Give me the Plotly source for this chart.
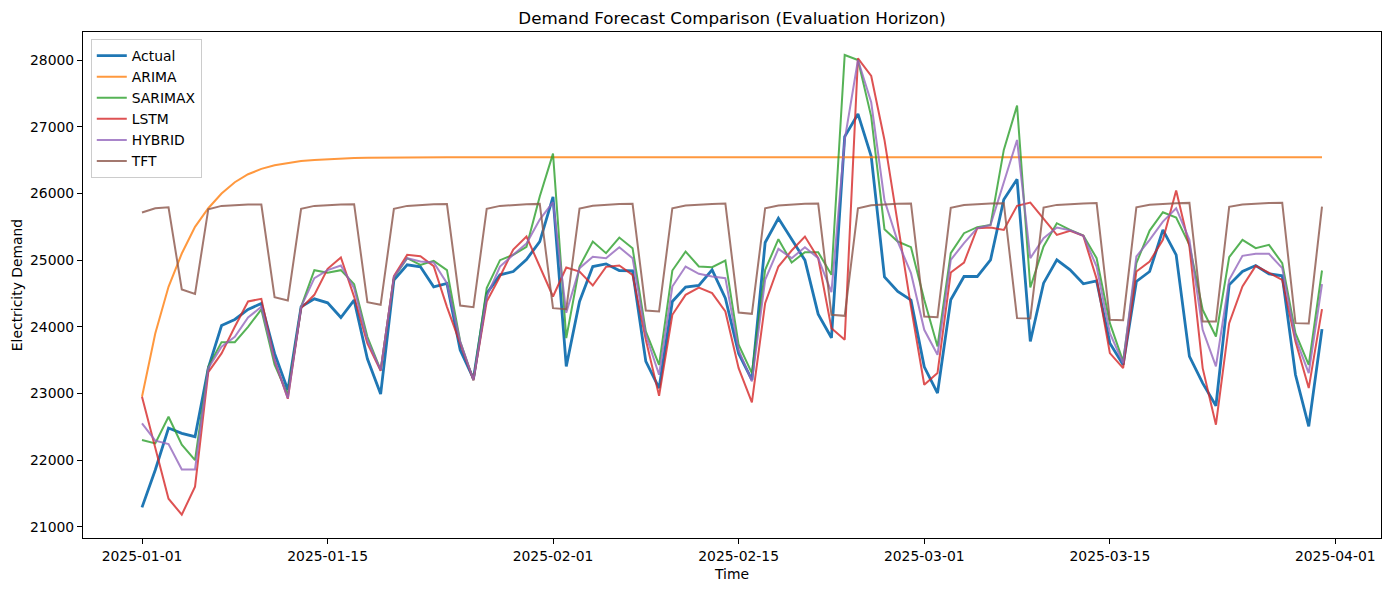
import pandas as pd
import plotly.graph_objects as go

start_date = "2025-01-01"
n_days = 90
dates = pd.date_range(start_date, periods=n_days, freq="D")

actual = [21290, 21850, 22480, 22400, 22350, 23380, 24020, 24110, 24260, 24350,
          23600, 23050, 24300, 24420, 24360, 24140, 24400, 23520, 22990, 24700,
          24930, 24900, 24600, 24650, 23650, 23220, 24500, 24780, 24830, 25010,
          25280, 25950, 23405, 24380, 24905, 24945, 24845, 24840, 23480, 23080,
          24380, 24595, 24620, 24855, 24430, 23600, 23205, 25265, 25630, 25315,
          25000, 24190, 23835, 26855, 27195, 26560, 24750, 24530, 24400, 23400,
          23005, 24405, 24755, 24755, 25005, 25910, 26215, 23780, 24655, 25005,
          24855, 24645, 24690, 23755, 23430, 24680, 24830, 25455, 25080, 23555,
          23155, 22815, 24630, 24830, 24920, 24795, 24765, 23280, 22505, 23965]

arima = [22950, 23900, 24600, 25100, 25500, 25780, 26000, 26170, 26290, 26370,
         26425, 26462, 26488, 26505, 26517, 26526, 26532, 26536, 26539, 26541,
         26542, 26543, 26544, 26545, 26545, 26545, 26545, 26545, 26545, 26545,
         26545, 26545, 26545, 26545, 26545, 26545, 26545, 26545, 26545, 26545,
         26545, 26545, 26545, 26545, 26545, 26545, 26545, 26545, 26545, 26545,
         26545, 26545, 26545, 26545, 26545, 26545, 26545, 26545, 26545, 26545,
         26545, 26545, 26545, 26545, 26545, 26545, 26545, 26545, 26545, 26545,
         26545, 26545, 26545, 26545, 26545, 26545, 26545, 26545, 26545, 26545,
         26545, 26545, 26545, 26545, 26545, 26545, 26545, 26545, 26545, 26545]

sarimax = [22300, 22250, 22650, 22230, 22000, 23400, 23770, 23770, 24000, 24260,
           23430, 22980, 24300, 24850, 24810, 24850, 24640, 23850, 23350, 24740,
           25030, 24930, 24990, 24850, 23780, 23200, 24580, 25000, 25080, 25200,
           25955, 26600, 23830, 24905, 25280, 25105, 25340, 25180, 23930, 23430,
           24845, 25130, 24905, 24895, 24995, 23730, 23305, 24855, 25315, 24965,
           25120, 25120, 24780, 28080, 28005, 27155, 25465, 25280, 25195, 24405,
           23705, 25105, 25405, 25495, 25530, 26655, 27320, 24590, 25205, 25555,
           25455, 25370, 25030, 24055, 23480, 24955, 25445, 25720, 25640, 25230,
           24255, 23855, 25045, 25305, 25180, 25230, 24955, 23905, 23430, 24845]

lstm = [22950, 22180, 21420, 21180, 21600, 23320, 23600, 24000, 24380, 24420,
        23500, 22920, 24280, 24480, 24870, 25040, 24450, 23750, 23340, 24760,
        25080, 25060, 24910, 24300, 23750, 23200, 24380, 24755, 25160, 25355,
        24905, 24455, 24890, 24830, 24620, 24900, 24920, 24780, 23805, 22965,
        24180, 24480, 24590, 24505, 24230, 23380, 22865, 24355, 24905, 25145,
        25355, 25030, 23980, 23805, 28030, 27765, 26805, 25560, 24300, 23130,
        23305, 24815, 24965, 25480, 25490, 25455, 25815, 25865, 25630, 25380,
        25440, 25365, 24720, 23605, 23380, 24830, 24980, 25305, 26045, 25205,
        23380, 22530, 24055, 24605, 24915, 24805, 24705, 23780, 23080, 24265]

hybrid = [22550, 22290, 22240, 21860, 21860, 23380, 23700, 23850, 24140, 24300,
          23500, 22930, 24300, 24730, 24850, 24920, 24580, 23800, 23350, 24750,
          25030, 24980, 24965, 24655, 23780, 23200, 24455, 24905, 25080, 25250,
          25610, 25870, 24210, 24880, 25050, 25030, 25195, 25030, 23880, 23280,
          24605, 24905, 24795, 24755, 24730, 23650, 23180, 24705, 25170, 25030,
          25195, 25030, 24520, 26805, 28005, 27370, 25900, 25280, 24805, 23955,
          23580, 25005, 25255, 25480, 25530, 26180, 26805, 25030, 25330, 25490,
          25450, 25365, 24905, 23905, 23455, 25055, 25305, 25580, 25780, 25305,
          23955, 23405, 24705, 25065, 25095, 25095, 24880, 23830, 23305, 24640]

tft = [25715, 25780, 25795, 24560, 24495, 25765, 25815, 25830, 25835, 25835,
       24445, 24395, 25770, 25815, 25830, 25835, 25840, 24370, 24330, 25770,
       25815, 25830, 25838, 25842, 24320, 24295, 25770, 25815, 25832, 25840,
       25845, 24280, 24265, 25775, 25818, 25835, 25842, 25846, 24245, 24230,
       25780, 25820, 25837, 25845, 25849, 24215, 24195, 25780, 25822, 25838,
       25846, 25850, 24180, 24165, 25780, 25825, 25840, 25848, 25852, 24155,
       24145, 25785, 25828, 25843, 25850, 25855, 24130, 24125, 25790, 25830,
       25845, 25852, 25857, 24105, 24100, 25795, 25833, 25848, 25855, 25860,
       24080, 24078, 25800, 25836, 25850, 25858, 25863, 24055, 24050, 25805]

series = [
    ("Actual", actual, "#1f77b4", 2.8, 1.0),
    ("ARIMA", arima, "#ff7f0e", 2.0, 0.8),
    ("SARIMAX", sarimax, "#2ca02c", 2.0, 0.8),
    ("LSTM", lstm, "#d62728", 2.0, 0.8),
    ("HYBRID", hybrid, "#9467bd", 2.0, 0.8),
    ("TFT", tft, "#8c564b", 2.0, 0.8),
]

y_ticks = [21000, 22000, 23000, 24000, 25000, 26000, 27000, 28000]
x_ticks = ["2025-01-01", "2025-01-15", "2025-02-01", "2025-02-15",
           "2025-03-01", "2025-03-15", "2025-04-01"]

fig = go.Figure()
for name, vals, color, width, op in series:
    fig.add_trace(go.Scatter(x=dates, y=vals, mode="lines", name=name,
                             line=dict(color=color, width=width), opacity=op))

pad = pd.Timedelta(days=4.45)
font_family = "DejaVu Sans"
axis_common = dict(showline=True, linecolor="black", linewidth=1, mirror=True,
                   ticks="outside", ticklen=5, tickwidth=1, tickcolor="black",
                   showgrid=False, zeroline=False, automargin=False,
                   tickfont=dict(family=font_family, size=13.9, color="black"))

fig.update_layout(
    width=1388, height=590, autosize=False,
    margin=dict(l=83, r=7, t=32, b=52, autoexpand=False),
    paper_bgcolor="white", plot_bgcolor="white",
    font=dict(family=font_family, color="black"),
    title=dict(text="Demand Forecast Comparison (Evaluation Horizon)",
               x=0.5, xref="paper", y=1 - 18 / 590, yref="container",
               yanchor="middle", xanchor="center",
               font=dict(family=font_family, size=16.7, color="black")),
    xaxis=dict(range=[dates[0] - pad, dates[-1] + pad], tickvals=x_ticks,
               ticktext=x_ticks,
               title=dict(text="Time", standoff=6,
                          font=dict(family=font_family, size=13.9)),
               **axis_common),
    yaxis=dict(range=[20830, 28425], tickvals=y_ticks,
               ticktext=[str(v) for v in y_ticks],
               title=dict(text="Electricity Demand", standoff=4,
                          font=dict(family=font_family, size=13.9)),
               **axis_common),
    legend=dict(x=0.006, y=0.986, xanchor="left", yanchor="top",
                bgcolor="rgba(255,255,255,0.8)", bordercolor="#cccccc",
                borderwidth=1, font=dict(family=font_family, size=13.9),
                tracegroupgap=0),
    showlegend=True,
)

fig.write_html("out.html", config={"responsive": False, "displayModeBar": False},
               post_script="document.body.style.margin='0';document.body.style.overflow='hidden';")
